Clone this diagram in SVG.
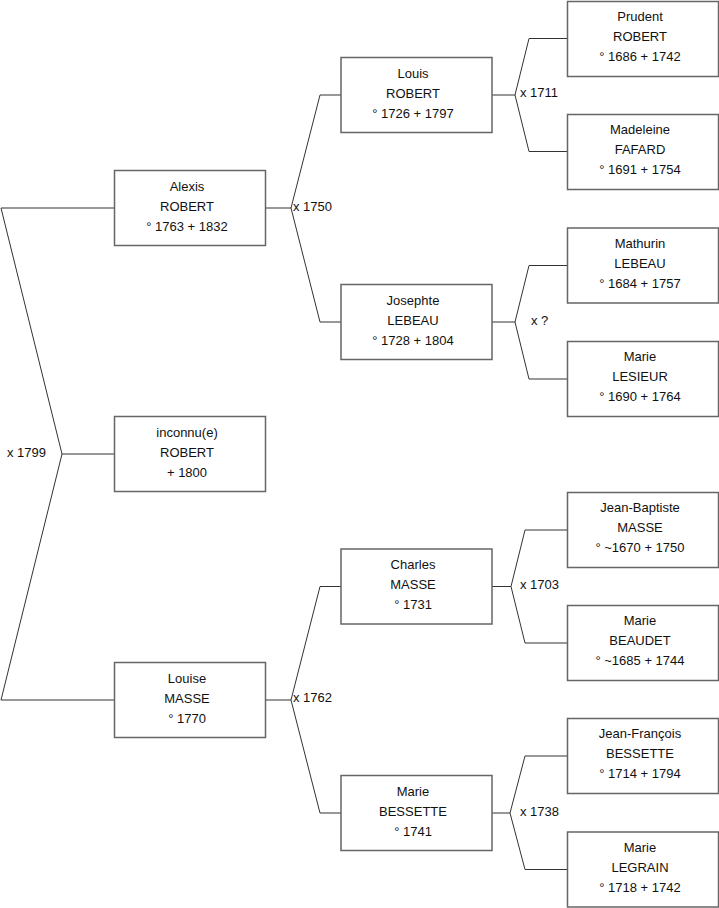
<svg xmlns="http://www.w3.org/2000/svg" width="719" height="908" viewBox="0 0 719 908">
<style>
  .box { fill: #ffffff; stroke: #666666; stroke-width: 1.5; }
  .ln { fill: none; stroke: #333333; stroke-width: 1; }
  text { font-family: "Liberation Sans", Arial, sans-serif; font-size: 13px; fill: #111111; }
  .c { text-anchor: middle; }
</style>
<rect width="719" height="908" fill="#ffffff"/>
<g id="connectors">
  <path class="ln" d="M114.5,208 H1 L62,454 L1,700 H114.5 M62,454 H114.5"/>
  <text x="7" y="456.5">x 1799</text>
  <path class="ln" d="M265.5,208 H291 L320,95 H341 M291,208 L320,322 H341"/>
  <text x="293" y="211">x 1750</text>
  <path class="ln" d="M265.5,700 H291 L320,586.5 H341 M291,700 L320,813 H341"/>
  <text x="293" y="702">x 1762</text>
  <path class="ln" d="M491.5,95 H515 L529,38.5 H567.5 M515,95 L529,151.5 H567.5"/>
  <text x="520" y="97">x 1711</text>
  <path class="ln" d="M491.5,322 H515 L529,265.5 H567.5 M515,322 L529,379 H567.5"/>
  <text x="531" y="324.5">x ?</text>
  <path class="ln" d="M491.5,586.5 H511 L525,530 H567.5 M511,586.5 L525,643 H567.5"/>
  <text x="520" y="588.5">x 1703</text>
  <path class="ln" d="M491.5,813 H510 L525,756 H567.5 M510,813 L525,869.5 H567.5"/>
  <text x="520" y="815.5">x 1738</text>
</g>
<g id="alexis"><rect class="box" x="114.5" y="170.5" width="151" height="75"/>
  <text class="c" x="187" y="191">Alexis</text><text class="c" x="187" y="211">ROBERT</text><text class="c" x="187" y="231">° 1763 + 1832</text></g>
<g id="inconnu"><rect class="box" x="114.5" y="416.5" width="151" height="75"/>
  <text class="c" x="187" y="437">inconnu(e)</text><text class="c" x="187" y="457">ROBERT</text><text class="c" x="187" y="477"> + 1800</text></g>
<g id="louise"><rect class="box" x="114.5" y="662.5" width="151" height="75"/>
  <text class="c" x="187" y="683">Louise</text><text class="c" x="187" y="703">MASSE</text><text class="c" x="187" y="723">° 1770</text></g>
<g id="louis"><rect class="box" x="341" y="57.5" width="151" height="75"/>
  <text class="c" x="413" y="77.5">Louis</text><text class="c" x="413" y="97.5">ROBERT</text><text class="c" x="413" y="117.5">° 1726 + 1797</text></g>
<g id="josephte"><rect class="box" x="341" y="284.5" width="151" height="75"/>
  <text class="c" x="413" y="304.5">Josephte</text><text class="c" x="413" y="324.5">LEBEAU</text><text class="c" x="413" y="344.5">° 1728 + 1804</text></g>
<g id="charles"><rect class="box" x="341" y="549" width="151" height="75"/>
  <text class="c" x="413" y="569">Charles</text><text class="c" x="413" y="589">MASSE</text><text class="c" x="413" y="609">° 1731</text></g>
<g id="marie-bessette"><rect class="box" x="341" y="775.5" width="151" height="75"/>
  <text class="c" x="413" y="795.5">Marie</text><text class="c" x="413" y="815.5">BESSETTE</text><text class="c" x="413" y="835.5">° 1741</text></g>
<g id="prudent"><rect class="box" x="567.5" y="1.5" width="151" height="75"/>
  <text class="c" x="640" y="21">Prudent</text><text class="c" x="640" y="41">ROBERT</text><text class="c" x="640" y="61">° 1686 + 1742</text></g>
<g id="madeleine"><rect class="box" x="567.5" y="114.5" width="151" height="75"/>
  <text class="c" x="640" y="134">Madeleine</text><text class="c" x="640" y="154">FAFARD</text><text class="c" x="640" y="174">° 1691 + 1754</text></g>
<g id="mathurin"><rect class="box" x="567.5" y="228" width="151" height="75"/>
  <text class="c" x="640" y="248">Mathurin</text><text class="c" x="640" y="268">LEBEAU</text><text class="c" x="640" y="288">° 1684 + 1757</text></g>
<g id="marie-lesieur"><rect class="box" x="567.5" y="341.5" width="151" height="75"/>
  <text class="c" x="640" y="361">Marie</text><text class="c" x="640" y="381">LESIEUR</text><text class="c" x="640" y="401">° 1690 + 1764</text></g>
<g id="jean-baptiste"><rect class="box" x="567.5" y="492.5" width="151" height="75"/>
  <text class="c" x="640" y="512">Jean-Baptiste</text><text class="c" x="640" y="532">MASSE</text><text class="c" x="640" y="552">° ~1670 + 1750</text></g>
<g id="marie-beaudet"><rect class="box" x="567.5" y="605.5" width="151" height="75"/>
  <text class="c" x="640" y="625">Marie</text><text class="c" x="640" y="645">BEAUDET</text><text class="c" x="640" y="665">° ~1685 + 1744</text></g>
<g id="jean-francois"><rect class="box" x="567.5" y="718.5" width="151" height="75"/>
  <text class="c" x="640" y="738">Jean-François</text><text class="c" x="640" y="758">BESSETTE</text><text class="c" x="640" y="778">° 1714 + 1794</text></g>
<g id="marie-legrain"><rect class="box" x="567.5" y="832" width="151" height="75"/>
  <text class="c" x="640" y="852">Marie</text><text class="c" x="640" y="872">LEGRAIN</text><text class="c" x="640" y="892">° 1718 + 1742</text></g>
</svg>
